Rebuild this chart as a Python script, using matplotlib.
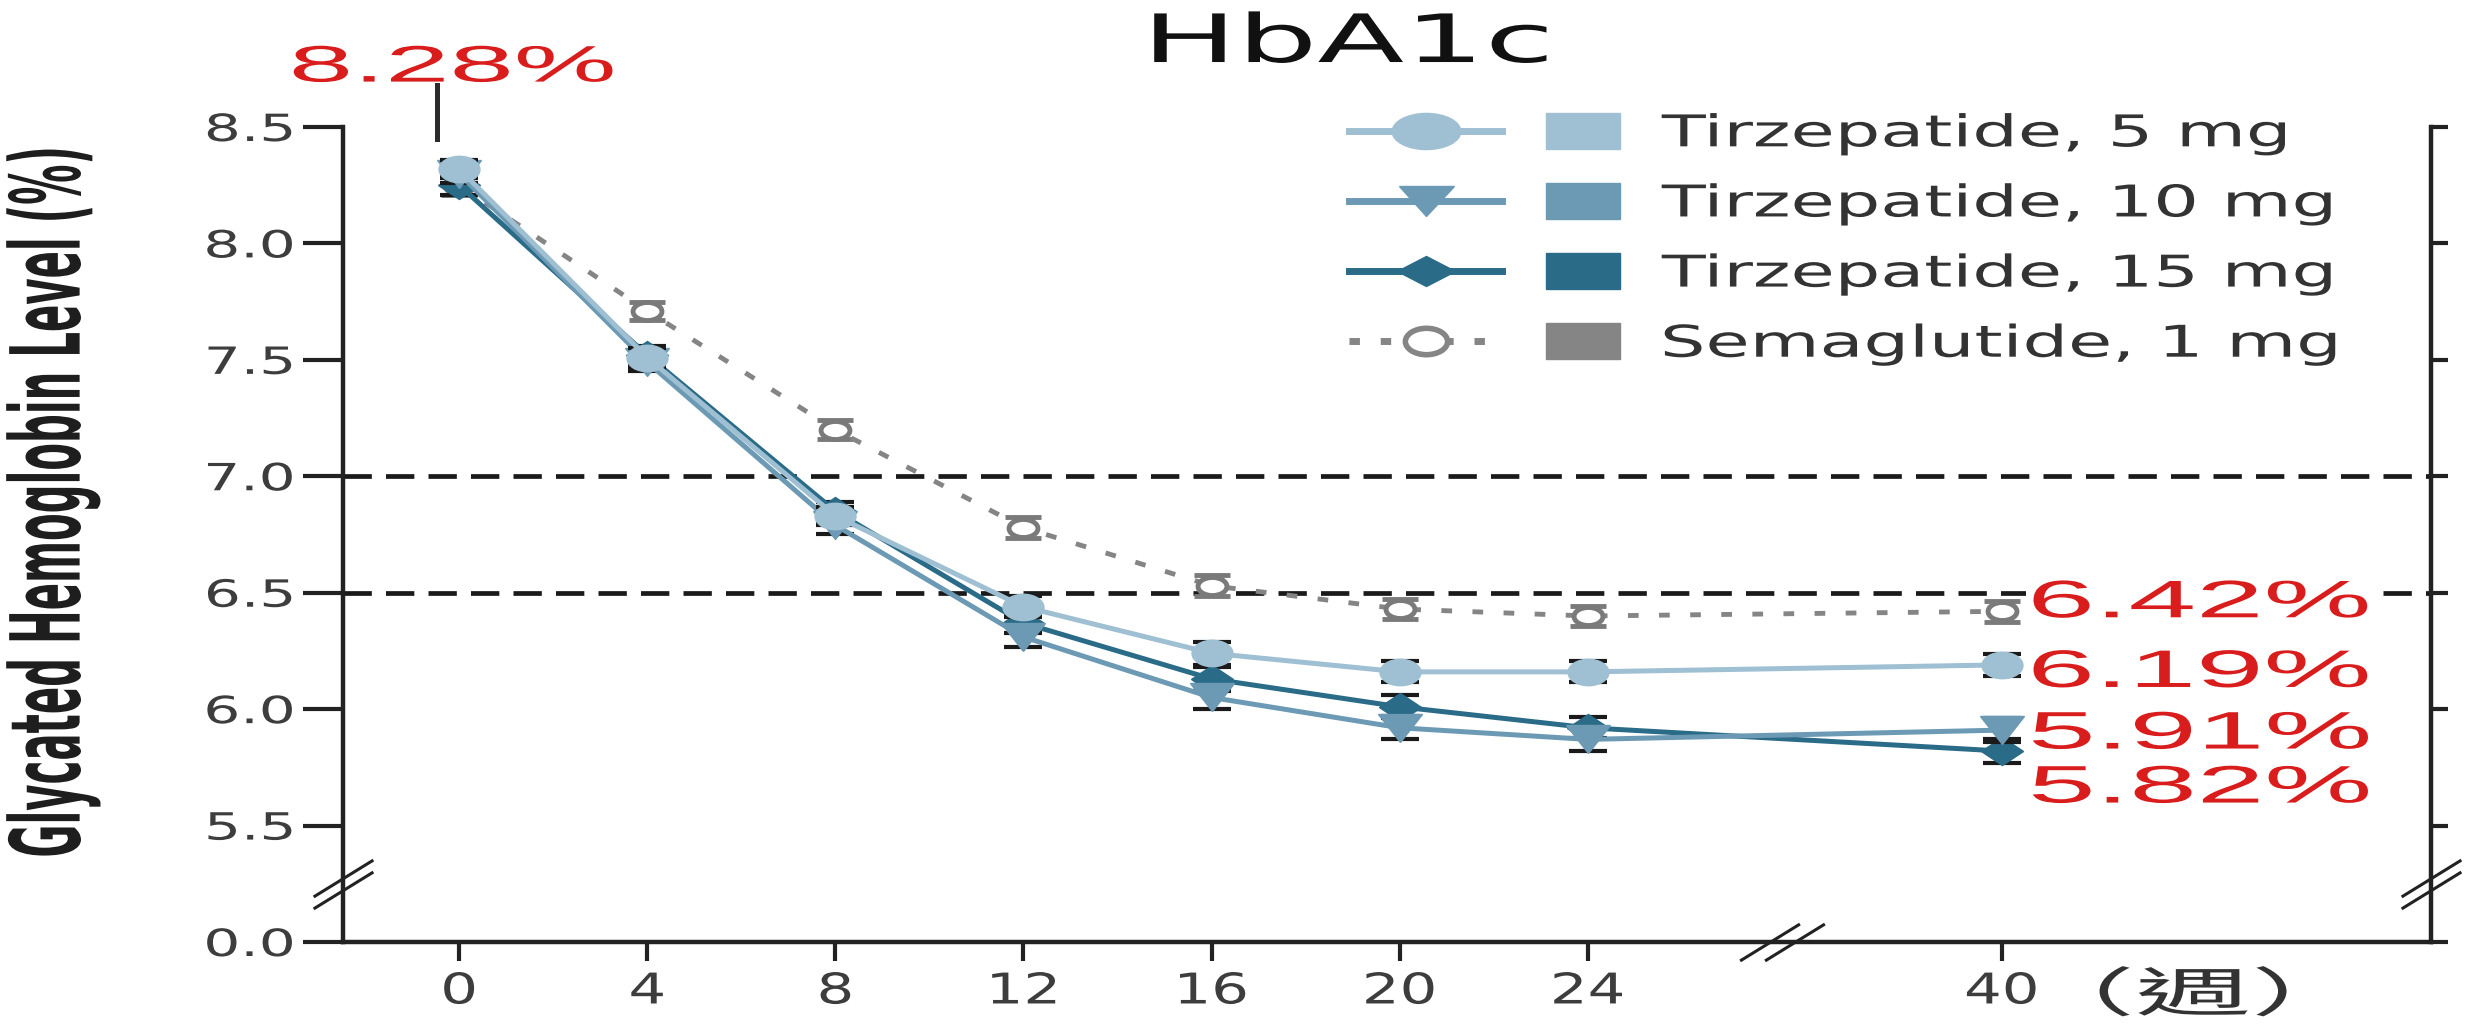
import numpy as np
import matplotlib
matplotlib.use("Agg")
import matplotlib.pyplot as plt
from matplotlib import font_manager
from matplotlib.lines import Line2D
from matplotlib.markers import MarkerStyle
from matplotlib.path import Path
from matplotlib.patheffects import AbstractPathEffect
from matplotlib.transforms import Affine2D
from matplotlib.legend_handler import HandlerTuple


#####################
### Data
#####################
weeks = [0, 4, 8, 12, 16, 20, 24, 40]
week_labels = ["0", "4", "8", "12", "16", "20", "24", "40"]

tirz5 = [8.32, 7.51, 6.83, 6.44, 6.24, 6.16, 6.16, 6.19]
tirz10 = [8.30, 7.49, 6.79, 6.31, 6.05, 5.92, 5.87, 5.91]
tirz15 = [8.25, 7.52, 6.85, 6.37, 6.13, 6.01, 5.92, 5.82]
sema = [8.25, 7.71, 7.20, 6.78, 6.53, 6.43, 6.40, 6.42]

se5 = [0.04, 0.04, 0.04, 0.045, 0.05, 0.045, 0.045, 0.047]
se10 = [0.04, 0.04, 0.04, 0.045, 0.05, 0.05, 0.05, 0.05]
se15 = [0.04, 0.04, 0.04, 0.045, 0.05, 0.05, 0.045, 0.05]
se_sema = [0.04, 0.04, 0.04, 0.045, 0.045, 0.045, 0.045, 0.045]

names = ["Tirzepatide, 5 mg", "Tirzepatide, 10 mg",
         "Tirzepatide, 15 mg", "Semaglutide, 1 mg"]

yticks = [5.0, 5.5, 6.0, 6.5, 7.0, 7.5, 8.0, 8.5]
ytick_labels = ["0.0", "5.5", "6.0", "6.5", "7.0", "7.5", "8.0", "8.5"]
targets = [7.0, 6.5]
baseline_hba1c = 8.28

c5 = "#9fbfd2"
c10 = "#6c9ab4"
c15 = "#2a6b88"
c_sema = "#858585"
red = "#d91c1c"
ink = "#222222"


#####################
### Helpers
#####################
class Stretch(AbstractPathEffect):
    # the source picture is squeezed wide, so glyphs get widened about an anchor
    def __init__(self, sx=1.0, sy=1.0, anchor="center", bg=None):
        super().__init__()
        self.sx = sx
        self.sy = sy
        self.anchor = anchor
        self.bg = bg

    def draw_path(self, renderer, gc, tpath, affine, rgbFace=None):
        if len(tpath.vertices) == 0:
            return
        ext = tpath.get_extents()
        if self.anchor == "left":
            cx = ext.x0
        elif self.anchor == "right":
            cx = ext.x1
        else:
            cx = (ext.x0 + ext.x1) / 2
        cy = (ext.y0 + ext.y1) / 2
        t = Affine2D().translate(-cx, -cy).scale(self.sx, self.sy).translate(cx, cy) + affine
        if self.bg is not None:
            p = 6
            box = Path([(ext.x0 - p, ext.y0 - p), (ext.x1 + p, ext.y0 - p),
                        (ext.x1 + p, ext.y1 + p), (ext.x0 - p, ext.y1 + p),
                        (ext.x0 - p, ext.y0 - p)], closed=True)
            gc2 = renderer.new_gc()
            gc2.copy_properties(gc)
            gc2.set_linewidth(0)
            renderer.draw_path(gc2, box, t, self.bg)
        renderer.draw_path(gc, tpath, t, rgbFace)


def wide(m, sx=1.55):
    return MarkerStyle(m, transform=Affine2D().scale(sx, 1.0))


# broken x axis: weeks after 24 are squeezed
x_cut, x_squeeze = 24, 0.55
def fwd(w):
    w = np.asarray(w, dtype=float)
    return np.where(w <= x_cut, w, x_cut + (w - x_cut) * x_squeeze)

def inv(p):
    p = np.asarray(p, dtype=float)
    return np.where(p <= x_cut, p, x_cut + (p - x_cut) / x_squeeze)


font_names = set(f.name for f in font_manager.fontManager.ttflist)
if "Liberation Sans Narrow" in font_names:
    ylab_font, ylab_size, ylab_sy = "Liberation Sans Narrow", 41.5, 1.73
else:
    ylab_font, ylab_size, ylab_sy = "DejaVu Sans", 29, 2.4


#####################
### Plot
#####################
plt.rcParams["font.family"] = "DejaVu Sans"
fig = plt.figure(figsize=(24.78, 10.27), dpi=100)
ax = fig.add_axes([0.13842, 0.08277, 0.84262, 0.79357])
ax.set_xscale("function", functions=(fwd, inv))

for y in targets:
    ax.axhline(y, color="#1a1a1a", lw=3.4, dashes=(6, 3), zorder=1)

ax.errorbar(weeks, sema, yerr=se_sema, color=c_sema, lw=3.5,
            linestyle=(0, (2.2, 4.2)), marker=wide("o", 1.6), ms=13,
            mfc="white", mec="#7a7a7a", mew=3.5,
            ecolor="#7a7a7a", elinewidth=1.5, capsize=13, capthick=3, zorder=3)
ax.errorbar(weeks, tirz15, yerr=se15, color=c15, lw=3.6,
            marker=wide("D"), ms=14, mec=c15,
            ecolor="#1a1a1a", elinewidth=1.5, capsize=13.5, capthick=3, zorder=4)
ax.errorbar(weeks, tirz10, yerr=se10, color=c10, lw=3.6,
            marker=wide("v"), ms=20, mec=c10,
            ecolor="#1a1a1a", elinewidth=1.5, capsize=13.5, capthick=3, zorder=5)
ax.errorbar(weeks, tirz5, yerr=se5, color=c5, lw=3.6,
            marker=wide("o"), ms=19, mec=c5,
            ecolor="#1a1a1a", elinewidth=1.5, capsize=13.5, capthick=3, zorder=6)

# axes
ax.set_xlim(-2.47, 56.6)
ax.set_ylim(5.0, 8.5)
ax.set_xticks(weeks)
ax.set_xticklabels(week_labels)
ax.set_yticks(yticks)
ax.set_yticklabels(ytick_labels)
ax.spines["top"].set_visible(False)
for s in ["left", "right", "bottom"]:
    ax.spines[s].set_linewidth(3.2)
    ax.spines[s].set_color(ink)
ax.tick_params(axis="x", direction="out", length=14, width=3, pad=6.5,
               labelsize=30.5, labelcolor="#3d3d3d", color=ink)
ax.tick_params(axis="y", direction="out", length=29, width=3, pad=6,
               labelsize=27, labelcolor="#3d3d3d", color=ink, right=True)
for t in ax.yaxis.get_major_ticks():
    t.tick2line.set_markersize(12)
for lab in ax.get_yticklabels():
    lab.set_path_effects([Stretch(1.55, anchor="right")])
for lab in ax.get_xticklabels():
    lab.set_path_effects([Stretch(1.4)])

# axis breaks
ybreak = Path([(-30, -12.5), (30, 24.5), (-30, -24.5), (30, 12.5)],
              [Path.MOVETO, Path.LINETO, Path.MOVETO, Path.LINETO])
xbreak = Path([(-42.5, -18.5), (17.5, 18.5), (-17.5, -18.5), (42.5, 18.5)],
              [Path.MOVETO, Path.LINETO, Path.MOVETO, Path.LINETO])
ax.plot([0, 1], [5.25, 5.25], ls="none", marker=MarkerStyle(ybreak), ms=43,
        mfc="none", mec=ink, mew=2.2, transform=ax.get_yaxis_transform(),
        clip_on=False, zorder=7)
ax.plot([31.5], [0], ls="none", marker=MarkerStyle(xbreak), ms=61,
        mfc="none", mec=ink, mew=2.2, transform=ax.get_xaxis_transform(),
        clip_on=False, zorder=7)

# labels
ax.set_xlabel("（週）", fontsize=38, family=["Noto Sans CJK TC", "DejaVu Sans"],
              color="#333333", va="center")
ax.xaxis.set_label_coords(0.886, -0.066)
ax.xaxis.label.set_path_effects([Stretch(2.2)])

ylab = fig.text(0.0215, 0.511, "Glycated Hemoglobin Level (%)", rotation=90,
                ha="center", va="center", fontsize=ylab_size, family=ylab_font,
                weight="bold", color="#1e1e1e")
ylab.set_path_effects([Stretch(1.0, ylab_sy)])

title = fig.text(0.5444, 0.9396, "HbA1c", ha="center", va="baseline",
                 fontsize=48, color="#111111")
title.set_path_effects([Stretch(1.9)])

# baseline call-out
ax.plot([-0.47, -0.47], [8.45, 8.68], color="#2b2b2b", lw=3.6,
        clip_on=False, zorder=7)
t0 = ax.text(-0.13, 8.695, f"{baseline_hba1c:.2f}%", ha="center", va="baseline",
             color=red, fontsize=37, family="Liberation Sans")
t0.set_path_effects([Stretch(2.25)])

# end values
final_vals = [sema[-1], tirz5[-1], tirz10[-1], tirz15[-1]]
label_dy = [5.8, -5.8, -3.2, -27]
for v, dy in zip(final_vals, label_dy):
    t = ax.annotate(f"{v:.2f}%", xy=(weeks[-1], v), xytext=(21, dy),
                    textcoords="offset points", ha="left", va="center",
                    color=red, fontsize=38, family="Liberation Sans",
                    annotation_clip=False, zorder=8)
    t.set_path_effects([Stretch(2.3, anchor="left", bg=(1, 1, 1))])

# legend: line+marker and a swatch per entry
sq = MarkerStyle("s", transform=Affine2D().scale(2.0, 1.0))
leg_handles = [
    (Line2D([], [], color=c5, lw=5, marker=wide("o", 1.9), ms=26, mec=c5),
     Line2D([], [], ls="none", marker=sq, ms=26.5, color=c5)),
    (Line2D([], [], color=c10, lw=5, marker=wide("v", 1.8), ms=22, mec=c10),
     Line2D([], [], ls="none", marker=sq, ms=26.5, color=c10)),
    (Line2D([], [], color=c15, lw=5, marker=wide("D", 2.0), ms=15, mec=c15),
     Line2D([], [], ls="none", marker=sq, ms=26.5, color=c15)),
    (Line2D([], [], color=c_sema, lw=5, linestyle=(0, (1.5, 3.0)),
            marker=wide("o", 1.6), ms=19, mfc="white", mec=c_sema, mew=4),
     Line2D([], [], ls="none", marker=sq, ms=26.5, color=c_sema)),
]
leg = ax.legend(leg_handles, names,
                handler_map={tuple: HandlerTuple(ndivide=None, pad=0.1)},
                loc="upper left", bbox_to_anchor=(0.4818, 1.018),
                frameon=False, fontsize=31.5, handlelength=7.1,
                handletextpad=0.05, labelspacing=0.62, borderpad=0,
                borderaxespad=0, labelcolor="#333333")
for txt in leg.get_texts():
    txt.set_path_effects([Stretch(1.64, anchor="left")])

fig.savefig("out.png", dpi=100)
